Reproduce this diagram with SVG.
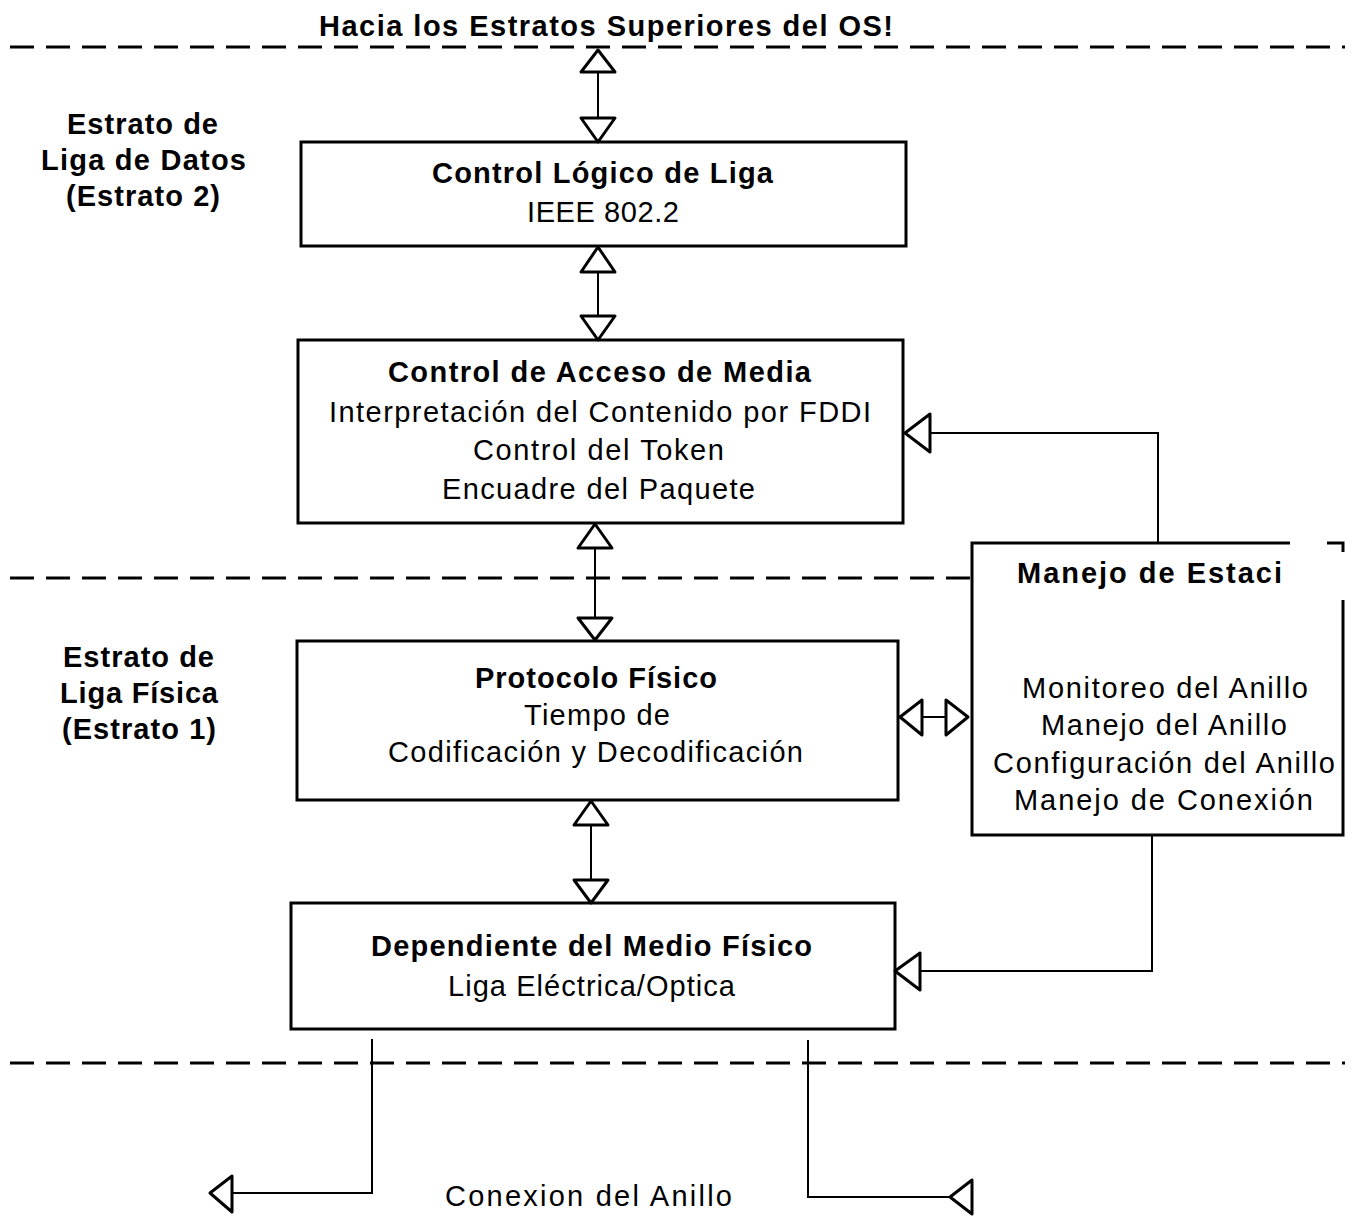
<svg xmlns="http://www.w3.org/2000/svg" width="1353" height="1217" viewBox="0 0 1353 1217">
<style>
.bg{fill:#fff}
.box{fill:none;stroke:#000;stroke-width:3}
.dash{fill:none;stroke:#000;stroke-width:3;stroke-dasharray:24 12}
.con{fill:none;stroke:#000;stroke-width:2}
.tri{fill:#fff;stroke:#000;stroke-width:3;stroke-linejoin:round}
text{font-family:"Liberation Sans",Arial,sans-serif;font-size:29px;fill:#000}
.b{font-weight:bold}
</style>
<rect class="bg" width="1353" height="1217"/>
<text class="b" x="319" y="36" textLength="574" lengthAdjust="spacing">Hacia los Estratos Superiores del OS!</text>
<g id="dashes">
<line class="dash" x1="10" y1="47" x2="1345" y2="47"/>
<line class="dash" x1="10" y1="578" x2="970" y2="578"/>
<line class="dash" x1="10" y1="1063" x2="1345" y2="1063"/>
</g>
<g id="layer2-label">
<text class="b" x="67" y="134" textLength="151" lengthAdjust="spacing">Estrato de</text>
<text class="b" x="41" y="170" textLength="205" lengthAdjust="spacing">Liga de Datos</text>
<text class="b" x="66" y="206" textLength="154" lengthAdjust="spacing">(Estrato 2)</text>
</g>
<g id="layer1-label">
<text class="b" x="63" y="667" textLength="151" lengthAdjust="spacing">Estrato de</text>
<text class="b" x="60" y="703" textLength="158" lengthAdjust="spacing">Liga Física</text>
<text class="b" x="62" y="739" textLength="154" lengthAdjust="spacing">(Estrato 1)</text>
</g>
<g id="llc">
<rect class="box" x="301" y="142" width="605" height="104"/>
<text class="b" x="432" y="183" textLength="341" lengthAdjust="spacing">Control Lógico de Liga</text>
<text x="527" y="222" textLength="152" lengthAdjust="spacing">IEEE 802.2</text>
</g>
<g id="mac">
<rect class="box" x="298" y="340" width="605" height="183"/>
<text class="b" x="388" y="382" textLength="423" lengthAdjust="spacing">Control de Acceso de Media</text>
<text x="329" y="422" textLength="542" lengthAdjust="spacing">Interpretación del Contenido por FDDI</text>
<text x="473" y="460" textLength="251" lengthAdjust="spacing">Control del Token</text>
<text x="442" y="499" textLength="313" lengthAdjust="spacing">Encuadre del Paquete</text>
</g>
<g id="smt">
<path class="box" d="M1290,543 H972 V835 H1343 V600 M1327,543 H1343 V552"/>
<text class="b" x="1017" y="583" textLength="265" lengthAdjust="spacing">Manejo de Estaci</text>
<text x="1022" y="698" textLength="286" lengthAdjust="spacing">Monitoreo del Anillo</text>
<text x="1041" y="735" textLength="246" lengthAdjust="spacing">Manejo del Anillo</text>
<text x="993" y="773" textLength="342" lengthAdjust="spacing">Configuración del Anillo</text>
<text x="1014" y="810" textLength="299" lengthAdjust="spacing">Manejo de Conexión</text>
</g>
<g id="phy">
<rect class="box" x="297" y="641" width="601" height="159"/>
<text class="b" x="475" y="688" textLength="242" lengthAdjust="spacing">Protocolo Físico</text>
<text x="524" y="725" textLength="146" lengthAdjust="spacing">Tiempo de</text>
<text x="388" y="762" textLength="415" lengthAdjust="spacing">Codificación y Decodificación</text>
</g>
<g id="pmd">
<rect class="box" x="291" y="903" width="604" height="126"/>
<text class="b" x="371" y="956" textLength="441" lengthAdjust="spacing">Dependiente del Medio Físico</text>
<text x="448" y="996" textLength="287" lengthAdjust="spacing">Liga Eléctrica/Optica</text>
</g>
<text id="ring-label" x="445" y="1206" textLength="287" lengthAdjust="spacing">Conexion del Anillo</text>
<g id="connectors">
<line class="con" x1="598" y1="72" x2="598" y2="118"/>
<polygon class="tri" points="598,50 581,72 615,72"/>
<polygon class="tri" points="581,118 615,118 598,142"/>
<line class="con" x1="598" y1="272" x2="598" y2="316"/>
<polygon class="tri" points="598,247 581,272 615,272"/>
<polygon class="tri" points="581,316 615,316 598,340"/>
<line class="con" x1="595" y1="548" x2="595" y2="618"/>
<polygon class="tri" points="595,524 578,548 612,548"/>
<polygon class="tri" points="578,618 612,618 595,640"/>
<line class="con" x1="591" y1="825" x2="591" y2="880"/>
<polygon class="tri" points="591,801 574,825 608,825"/>
<polygon class="tri" points="574,880 608,880 591,903"/>
<path class="con" d="M1158,543 V433 H930"/>
<polygon class="tri" points="905,433 930,414 930,452"/>
<line class="con" x1="922" y1="717" x2="946" y2="717"/>
<polygon class="tri" points="900,717 922,700 922,735"/>
<polygon class="tri" points="946,700 946,735 968,717"/>
<path class="con" d="M1152,835 V971 H920"/>
<polygon class="tri" points="895,971 920,953 920,990"/>
<path class="con" d="M372,1039 V1193 H232"/>
<polygon class="tri" points="210,1193 232,1176 232,1212"/>
<path class="con" d="M808,1040 V1197 H950"/>
<polygon class="tri" points="950,1197 972,1180 972,1214"/>
</g>
</svg>
